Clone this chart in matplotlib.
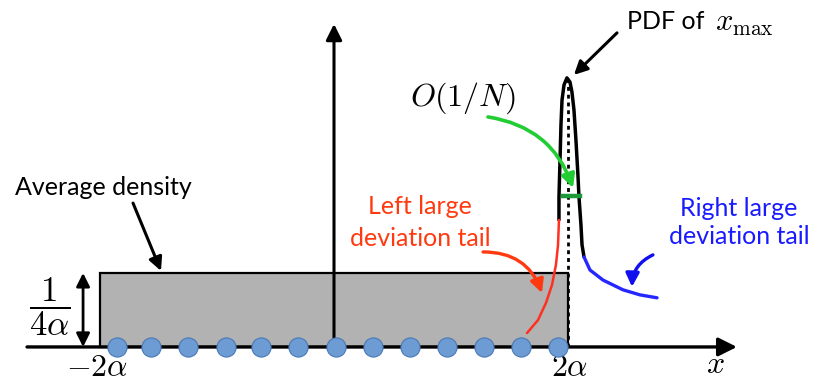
import matplotlib.pyplot as plt
import matplotlib.patches as mpatches

plt.rcParams["mathtext.fontset"] = "cm"
SANS = "Lato"

# --- data (x in units of alpha, y = density) ---
box_left, box_right = -2.0, 2.0
box_height = 0.25  # 1/(4 alpha)

eigen_x = [-1.855, -1.564, -1.248, -0.923, -0.624, -0.308, 0.017,
           0.333, 0.650, 0.966, 1.282, 1.598, 1.915]

# PDF of x_max (typical fluctuations, black)
pdf_x = [1.923, 1.923, 1.932, 1.940, 1.949, 1.966, 1.991, 2.017, 2.034,
         2.051, 2.068, 2.085, 2.094, 2.111, 2.120, 2.137]
pdf_y = [0.429, 0.507, 0.632, 0.750, 0.834, 0.885, 0.909, 0.895, 0.861,
         0.801, 0.699, 0.581, 0.507, 0.412, 0.345, 0.304]

# left large deviation tail (red)
left_x = [1.923, 1.915, 1.897, 1.863, 1.812, 1.744, 1.650]
left_y = [0.429, 0.345, 0.277, 0.209, 0.149, 0.091, 0.047]

# right large deviation tail (blue)
right_x = [2.137, 2.188, 2.299, 2.470, 2.615, 2.761]
right_y = [0.304, 0.260, 0.226, 0.193, 0.176, 0.166]

peak_x, peak_y = 1.991, 0.909
width_y = 0.510
width_x = [1.957, 2.103]

fig = plt.figure(figsize=(8.16, 3.81), dpi=100)
ax = fig.add_axes([0, 0, 1, 1])
ax.set_xlim(-2.855, 4.12)
ax.set_ylim(-0.115, 1.172)
ax.axis("off")

# box (average density)
ax.add_patch(mpatches.Rectangle((box_left, 0), box_right - box_left, box_height,
                                facecolor="#b2b2b2", edgecolor="black", lw=1.6, zorder=2))

# axes with arrows
ax.annotate("", xy=(3.444, 0), xytext=(-2.624, 0),
            arrowprops=dict(arrowstyle="-|>", lw=2.4, color="black", mutation_scale=28,
                            shrinkA=0, shrinkB=0), zorder=3)
ax.annotate("", xy=(0, 1.091), xytext=(0, 0),
            arrowprops=dict(arrowstyle="-|>", lw=2.2, color="black", mutation_scale=24,
                            shrinkA=0, shrinkB=0), zorder=3)

# dotted line at the edge
ax.plot([2.0, 2.0], [0, peak_y], color="black", lw=2, ls=(0, (1.4, 1.4)), zorder=3)

# curves
ax.plot(pdf_x, pdf_y, color="black", lw=2.5, solid_capstyle="round", zorder=4)
ax.plot(left_x, left_y, color="#ff3020", lw=1.8, solid_capstyle="round", zorder=4)
ax.plot(right_x, right_y, color="#2626ff", lw=2.4, solid_capstyle="round", zorder=4)
ax.plot(width_x, [width_y, width_y], color="#1c9a3a", lw=3.2, zorder=5)

# eigenvalues
ax.scatter(eigen_x, [0] * len(eigen_x), s=190, color="#6d9bd3", edgecolor="#4a78b5",
           lw=0.8, zorder=6)

# double arrow for height
ax.annotate("", xy=(-2.145, box_height), xytext=(-2.145, 0),
            arrowprops=dict(arrowstyle="<|-|>", lw=2, color="black", mutation_scale=20,
                            shrinkA=0, shrinkB=0))

# annotation arrows
def arrow(tail, head, color, rad=0.0, lw=2.2, ms=20):
    ax.annotate("", xy=head, xytext=tail,
                arrowprops=dict(arrowstyle="-|>", lw=lw, color=color, mutation_scale=ms,
                                shrinkA=0, shrinkB=0,
                                connectionstyle=f"arc3,rad={rad}"), zorder=7)

arrow((-1.718, 0.486), (-1.479, 0.257), "black")
arrow((2.419, 1.061), (2.051, 0.919), "black")
arrow((1.316, 0.777), (2.043, 0.537), "#22cc33", rad=-0.3, lw=2.6)
arrow((1.274, 0.321), (1.778, 0.182), "#ff3a10", rad=-0.35, lw=2.4)
arrow((2.726, 0.311), (2.547, 0.203), "#1010ee", rad=0.3, lw=2.4)

# text
ax.text(-1.974, 0.537, "Average density", family=SANS, fontsize=18, ha="center", va="center")
ax.text(0.735, 0.42, "Left large\ndeviation tail", family=SANS, fontsize=18, color="#ff3a10",
        ha="center", va="center", linespacing=1.45)
ax.text(3.462, 0.42, "Right large\ndeviation tail", family=SANS, fontsize=18, color="#1a1aff",
        ha="center", va="center", linespacing=1.3)
ax.text(2.504, 1.098, "PDF of", family=SANS, fontsize=18, ha="left", va="center")
ax.text(3.26, 1.092, r"$x_{\max}$", fontsize=22, ha="left", va="center")
ax.text(1.103, 0.841, r"$O(1/N)$", fontsize=23, ha="center", va="center")
ax.text(-2.026, -0.068, r"$-2\alpha$", fontsize=23, ha="center", va="center")
ax.text(2.017, -0.068, r"$2\alpha$", fontsize=23, ha="center", va="center")
ax.text(3.256, -0.058, r"$x$", fontsize=23, ha="center", va="center")
ax.text(-2.427, 0.135, r"$\dfrac{1}{4\alpha}$", fontsize=25, ha="center", va="center")

fig.savefig("out.png", dpi=100)
